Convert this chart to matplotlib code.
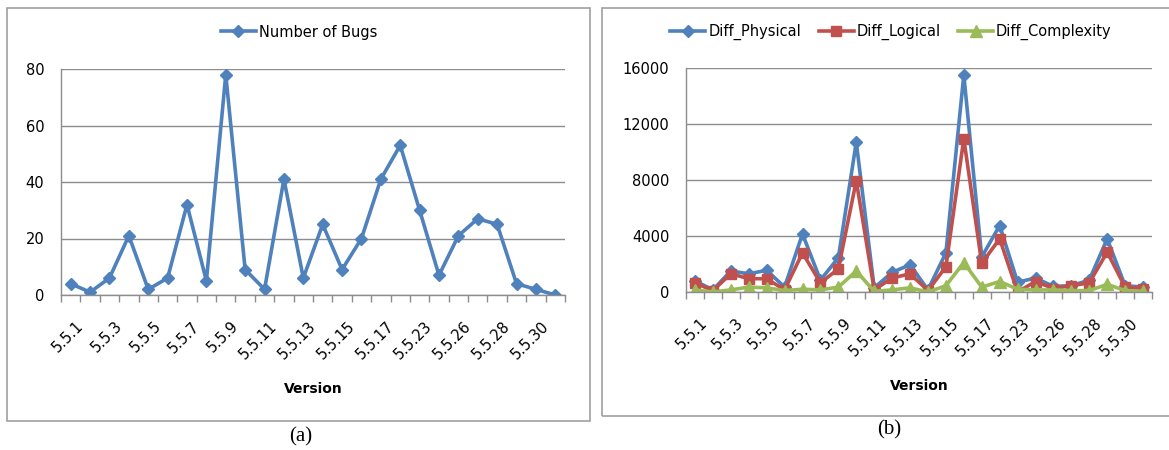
import numpy as np
import matplotlib
matplotlib.use("Agg")
import matplotlib.pyplot as plt
from matplotlib.patches import Rectangle
from matplotlib.transforms import ScaledTranslation

# versions (only every other one is labelled on the axis)
versions = ["5.5.1", "5.5.2", "5.5.3", "5.5.4", "5.5.5", "5.5.6", "5.5.7", "5.5.8",
            "5.5.9", "5.5.10", "5.5.11", "5.5.12", "5.5.13", "5.5.14", "5.5.15",
            "5.5.16", "5.5.17", "5.5.20", "5.5.23", "5.5.25", "5.5.26", "5.5.27",
            "5.5.28", "5.5.29", "5.5.30", "5.5.31"]

bugs = [4, 1, 6, 21, 2, 6, 32, 5, 78, 9, 2, 41, 6, 25, 9, 20, 41, 53, 30, 7,
        21, 27, 25, 4, 2, 0]

diff_physical = [800, 150, 1500, 1300, 1550, 350, 4150, 850, 2450, 10700, 300, 1400,
                 1950, 150, 2800, 15500, 2500, 4750, 700, 1000, 400, 450, 850, 3800,
                 450, 350]
diff_logical = [650, 100, 1300, 950, 950, 150, 2800, 650, 1650, 7950, 150, 1000,
                1300, 100, 1800, 10950, 2050, 3800, 0, 750, 250, 450, 650, 2850,
                350, 250]
diff_complexity = [150, 0, 150, 350, 300, 100, 200, 150, 350, 1500, 50, 150,
                   300, 0, 450, 2100, 350, 750, 200, 150, 150, 100, 100, 550,
                   100, 50]

BLUE = "#4F81BD"
RED = "#C0504D"
GREEN = "#9BBB59"
GRID = "#8C8C8C"

W, H = 1169, 450
fig = plt.figure(figsize=(W / 100, H / 100), dpi=100)


def box(x0, y0, x1, y1):
    # pixel box (top-left origin) -> figure fraction rect
    return [x0 / W, 1 - y1 / H, (x1 - x0) / W, (y1 - y0) / H]


def frame(x0, y0, x1, y1):
    r = box(x0, y0, x1, y1)
    fig.patches.append(Rectangle((r[0], r[1]), r[2], r[3], transform=fig.transFigure,
                                 fill=False, edgecolor="#A0A0A0", linewidth=1.2))


def style_axes(ax, ymax, ystep):
    n = len(versions)
    x = np.arange(n)
    ax.set_xlim(-0.5, n - 0.5)
    ax.set_ylim(0, ymax)
    ax.set_yticks(np.arange(0, ymax + 1, ystep))
    ax.yaxis.grid(True, color=GRID, linewidth=1.0)
    ax.set_axisbelow(True)
    for s in ["top", "right"]:
        ax.spines[s].set_visible(False)
    for s in ["left", "bottom"]:
        ax.spines[s].set_color(GRID)
        ax.spines[s].set_linewidth(1.0)
    ax.tick_params(axis="y", length=0, pad=12, labelsize=10.5)
    ax.set_xticks(x[::2])
    ax.set_xticklabels(versions[::2], rotation=45, ha="right", va="top",
                       rotation_mode="anchor", fontsize=10.5)
    ax.tick_params(axis="x", which="major", length=0, pad=17)
    ax.set_xticks(np.arange(-0.5, n), minor=True)
    ax.tick_params(axis="x", which="minor", length=5, color=GRID, width=1.0)
    off = ScaledTranslation(5 / 100, 0, fig.dpi_scale_trans)
    for lab in ax.get_xticklabels():
        lab.set_transform(lab.get_transform() + off)
    ax.set_xlabel("Version", fontsize=10, fontweight="bold", labelpad=14)


# (a) number of bugs
frame(7, 8, 590, 421)
ax1 = fig.add_axes(box(61, 69, 565, 295))
x = np.arange(len(versions))
ax1.plot(x, bugs, "-D", color=BLUE, linewidth=2.6, markersize=6.5, label="Number of Bugs")
style_axes(ax1, 80, 20)
ax1.legend(loc="center", bbox_to_anchor=(299 / W, 1 - 32 / H), bbox_transform=fig.transFigure,
           frameon=False, fontsize=10.5, handlelength=2.4, handletextpad=0.2)

# (b) diff sizes
frame(602, 8, 1185, 416)
ax2 = fig.add_axes(box(686, 68, 1152, 292))
ax2.plot(x, diff_physical, "-D", color=BLUE, linewidth=2.6, markersize=6.5, label="Diff_Physical")
ax2.plot(x, diff_logical, "-s", color=RED, linewidth=2.6, markersize=7.5, label="Diff_Logical")
ax2.plot(x, diff_complexity, "-^", color=GREEN, linewidth=2.6, markersize=8, label="Diff_Complexity")
style_axes(ax2, 16000, 4000)
ax2.legend(loc="center", bbox_to_anchor=(891 / W, 1 - 32 / H), bbox_transform=fig.transFigure,
           frameon=False, fontsize=10.5, ncol=3, handlelength=2.4, handletextpad=0.2,
           columnspacing=1.2)

fig.text(301 / W, 1 - 437 / H, "(a)", ha="center", va="center",
         family="Liberation Serif", fontsize=15)
fig.text(889 / W, 1 - 430 / H, "(b)", ha="center", va="center",
         family="Liberation Serif", fontsize=15)

fig.savefig("out.png", dpi=100)
